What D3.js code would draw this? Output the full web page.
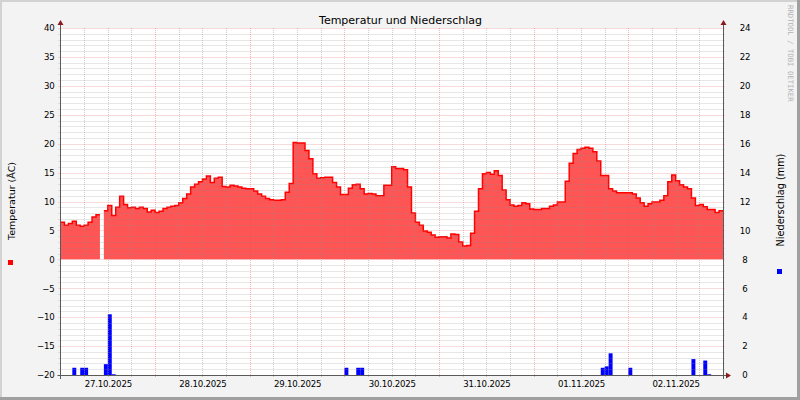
<!DOCTYPE html>
<html><head><meta charset="utf-8">
<script src="https://cdn.jsdelivr.net/npm/d3@7"></script>
<style>
html,body{margin:0;padding:0;background:#f3f3f3;}
svg{display:block;}
</style></head><body>
<svg id="c" width="800" height="400"></svg>
<script>
// ---------- data ----------
const startUtc = Date.UTC(2025, 9, 27, 0, 0);   // 27.10.2025 00:00
const hoursTotal = 168;
const temperatureC = [
  6.4, 5.9, 6.2, 6.6, 5.9, 5.7, 5.9, 6.4, 7.3, 7.7, null, 8.4,
  9.3, 7.6, 9.0, 10.9, 9.5, 8.9, 9.0, 8.8, 9.0, 8.8, 8.2, 8.5,
  8.1, 8.3, 8.8, 9.0, 9.2, 9.3, 9.8, 10.5, 11.3, 12.5, 13.0, 13.4,
  13.9, 14.4, 13.3, 14.0, 14.2, 12.6, 12.5, 12.8, 12.7, 12.5, 12.3, 12.2,
  12.2, 11.8, 11.3, 10.9, 10.5, 10.3, 10.2, 10.2, 10.3, 11.6, 13.1, 20.2,
  20.1, 20.1, 18.8, 17.4, 14.8, 14.0, 14.1, 14.2, 14.2, 13.3, 12.5, 11.2,
  11.2, 12.3, 12.9, 13.0, 12.2, 11.3, 11.4, 11.3, 11.0, 11.0, 12.8, 12.8,
  16.0, 15.7, 15.7, 15.5, 12.5, 8.0, 6.4, 5.9, 4.9, 4.7, 4.2, 3.8,
  3.9, 3.9, 3.7, 4.4, 4.3, 3.0, 2.3, 2.4, 4.5, 8.3, 12.2, 14.8,
  15.0, 14.7, 15.3, 14.5, 12.0, 10.3, 9.4, 9.2, 9.3, 9.8, 9.6, 8.7,
  8.6, 8.6, 8.8, 8.8, 9.2, 9.4, 9.9, 9.9, 13.5, 16.6, 18.3, 19.0,
  19.2, 19.4, 19.2, 18.6, 17.0, 14.5, 14.5, 12.2, 11.8, 11.5, 11.5, 11.5,
  11.5, 11.3, 10.6, 9.8, 9.2, 9.6, 9.9, 9.9, 10.2, 11.0, 13.4, 14.6,
  13.6, 12.9, 12.5, 12.2, 10.6, 9.3, 9.5, 9.1, 8.6, 8.6, 8.1, 8.4
];
const precipHours = [3, 5, 6, 11, 12, 13, 72, 75, 76, 137, 138, 139, 144, 160, 163, 164];
const precipMm    = [0.5, 0.5, 0.5, 0.75, 4.2, 0.05, 0.5, 0.5, 0.5, 0.5, 0.6, 1.5, 0.5, 1.1, 1.0, 0.05];
const dayLabels = ["27.10.2025", "28.10.2025", "29.10.2025", "30.10.2025", "31.10.2025", "01.11.2025", "02.11.2025"];
const tempTicks = [-20, -15, -10, -5, 0, 5, 10, 15, 20, 25, 30, 35, 40];
const precipTicks = [0, 2, 4, 6, 8, 10, 12, 14, 16, 18, 20, 22, 24];
const titleText = "Temperatur und Niederschlag";
const leftTitle = "Temperatur (ÂC)";
const rightTitle = "Niederschlag (mm)";
const watermarkText = "RRDTOOL / TOBI OETIKER";

// ---------- layout ----------
const W = 800, H = 400;
const X0 = 60.5, X1 = 723, Y0 = 28, Y1 = 375;
const HOUR = 3600 * 1000;
const hourDate = i => new Date(startUtc + i * HOUR);

const svg = d3.select("#c");
const x = d3.scaleUtc().domain([hourDate(0), hourDate(hoursTotal)]).range([X0, X1]);
const yT = d3.scaleLinear().domain([-20, 40]).range([Y1, Y0]);
const yP = d3.scaleLinear().domain([0, 24]).range([Y1, Y0]);

// background & frame
svg.append("rect").attr("x", 0).attr("y", 0).attr("width", W).attr("height", H).attr("fill", "#f3f3f3");
svg.append("rect").attr("x", 0).attr("y", 0).attr("width", W).attr("height", 2).attr("fill", "#d2d2d2");
svg.append("rect").attr("x", 0).attr("y", 0).attr("width", 2).attr("height", H).attr("fill", "#d2d2d2");
svg.append("rect").attr("x", 0).attr("y", H - 3).attr("width", W).attr("height", 3).attr("fill", "#a0a0a0");
svg.append("rect").attr("x", W - 3).attr("y", 0).attr("width", 3).attr("height", H).attr("fill", "#a0a0a0");

// plot background
svg.append("rect").attr("x", X0).attr("y", Y0).attr("width", X1 - X0).attr("height", Y1 - Y0).attr("fill", "#ffffff");

// ---------- marks ----------
const pts = [];
temperatureC.forEach((v, i) => {
  if (v == null) { pts.push({ t: hourDate(i), v: null }); return; }
  pts.push({ t: hourDate(i), v });
  pts.push({ t: hourDate(i + 1), v });
});
const area = d3.area().defined(d => d.v != null)
  .x(d => x(d.t)).y0(yT(0)).y1(d => yT(d.v));
const line = d3.line().defined(d => d.v != null)
  .x(d => x(d.t)).y(d => yT(d.v));
svg.append("path").datum(pts).attr("d", area).attr("fill", "#ff5555");
svg.append("path").datum(pts).attr("d", line).attr("fill", "none")
  .attr("stroke", "#ff0000").attr("stroke-width", 1.5);

svg.append("g").selectAll("rect").data(precipHours.map((h, k) => ({ h, v: precipMm[k] })))
  .join("rect")
  .attr("x", d => x(hourDate(d.h)))
  .attr("width", d => x(hourDate(d.h + 1)) - x(hourDate(d.h)))
  .attr("y", d => yP(d.v))
  .attr("height", d => Math.max(0.8, yP(0) - yP(d.v)))
  .attr("fill", "#0000ff");

// ---------- grid ----------
const grid = svg.append("g");
const minorCol = "rgba(140,140,140,0.42)", majorCol = "rgba(230,80,80,0.42)";
const minorT = d3.range(-20, 41, 1).filter(v => v % 5 !== 0);
grid.selectAll(".hm").data(minorT).join("line")
  .attr("x1", X0 - 2).attr("x2", X1 + 2)
  .attr("y1", d => Math.round(yT(d)) + 0.5).attr("y2", d => Math.round(yT(d)) + 0.5)
  .attr("stroke", minorCol).attr("stroke-dasharray", "1,1");
grid.selectAll(".hM").data(tempTicks.filter(v => v !== -20)).join("line")
  .attr("x1", X0 - 2).attr("x2", X1 + 2)
  .attr("y1", d => Math.round(yT(d)) + 0.5).attr("y2", d => Math.round(yT(d)) + 0.5)
  .attr("stroke", majorCol).attr("stroke-dasharray", "1,1");
const minorH = d3.range(6, hoursTotal, 6).filter(h => h % 24 !== 0);
grid.selectAll(".vm").data(minorH).join("line")
  .attr("x1", d => Math.round(x(hourDate(d))) + 0.5).attr("x2", d => Math.round(x(hourDate(d))) + 0.5)
  .attr("y1", Y0).attr("y2", Y1 + 2)
  .attr("stroke", minorCol).attr("stroke-dasharray", "1,1");
grid.selectAll(".vM").data(d3.range(24, hoursTotal, 24)).join("line")
  .attr("x1", d => Math.round(x(hourDate(d))) + 0.5).attr("x2", d => Math.round(x(hourDate(d))) + 0.5)
  .attr("y1", Y0).attr("y2", Y1 + 3)
  .attr("stroke", majorCol).attr("stroke-dasharray", "1,1");

// ---------- axes lines & arrows ----------
const axc = "#5a5a5a", arrowc = "#8b1a1a";
svg.append("line").attr("x1", X0).attr("x2", X0).attr("y1", Y0 - 6).attr("y2", Y1 + 4).attr("stroke", axc);
svg.append("line").attr("x1", X1 + 0.5).attr("x2", X1 + 0.5).attr("y1", Y0 - 6).attr("y2", Y1 + 4).attr("stroke", axc);
svg.append("line").attr("x1", X0 - 3).attr("x2", X1 + 4).attr("y1", Y1 + 0.5).attr("y2", Y1 + 0.5).attr("stroke", axc);
svg.append("path").attr("d", `M${X0 - 3},${Y0 - 3} L${X0 + 3},${Y0 - 3} L${X0},${Y0 - 8} Z`).attr("fill", arrowc);
svg.append("path").attr("d", `M${X1 - 2.5},${Y0 - 3} L${X1 + 3.5},${Y0 - 3} L${X1 + 0.5},${Y0 - 8} Z`).attr("fill", arrowc);
svg.append("path").attr("d", `M${X1 + 3},${Y1 - 2.5} L${X1 + 3},${Y1 + 3.5} L${X1 + 8},${Y1 + 0.5} Z`).attr("fill", arrowc);

// ---------- axes labels ----------
const fontTick = "DejaVu Sans, sans-serif";
function styleAxis(g) {
  g.select(".domain").remove();
  g.selectAll(".tick line").remove();
  g.selectAll("text").attr("fill", "#000").style("font-family", fontTick)
    .style("font-size", "8.6px").style("letter-spacing", "-0.2px");
}
svg.append("g").attr("transform", `translate(${X0},0)`)
  .call(d3.axisLeft(yT).tickValues(tempTicks).tickSize(0).tickPadding(6).tickFormat(d3.format("d")))
  .call(styleAxis);
const ra = svg.append("g").attr("transform", `translate(${X1},0)`)
  .call(d3.axisRight(yP).tickValues(precipTicks).tickSize(0).tickPadding(22).tickFormat(d3.format("d")))
  .call(styleAxis);
ra.selectAll("text").attr("text-anchor", "middle");
const noonDates = dayLabels.map((_, i) => hourDate(i * 24 + 12));
svg.append("g").attr("transform", `translate(0,${Y1})`)
  .call(d3.axisBottom(x).tickValues(noonDates).tickSize(0).tickPadding(6)
    .tickFormat((d, i) => dayLabels[i]))
  .call(styleAxis);

// ---------- titles ----------
svg.append("text").attr("x", 400.5).attr("y", 24).attr("text-anchor", "middle")
  .style("font-family", "DejaVu Sans, sans-serif").style("font-size", "11px").attr("fill", "#000")
  .text(titleText);
svg.append("text").attr("transform", "translate(15,201) rotate(-90)").attr("text-anchor", "middle")
  .style("font-family", "DejaVu Sans, sans-serif").style("font-size", "9.5px").attr("fill", "#000")
  .text(leftTitle);
svg.append("text").attr("transform", "translate(784,200) rotate(-90)").attr("text-anchor", "middle")
  .style("font-family", "DejaVu Sans, sans-serif").style("font-size", "9.7px").attr("fill", "#000")
  .text(rightTitle);
svg.append("text").attr("transform", "translate(787.5,5) rotate(90)").attr("text-anchor", "start")
  .style("font-family", "DejaVu Sans Mono, monospace").style("font-size", "7.3px").attr("fill", "#b4b4b4")
  .text(watermarkText);

// legend markers
svg.append("rect").attr("x", 8).attr("y", 260).attr("width", 5).attr("height", 5).attr("fill", "#ff0000");
svg.append("rect").attr("x", 777).attr("y", 269).attr("width", 5).attr("height", 5).attr("fill", "#0000ff");
</script>
</body></html>
